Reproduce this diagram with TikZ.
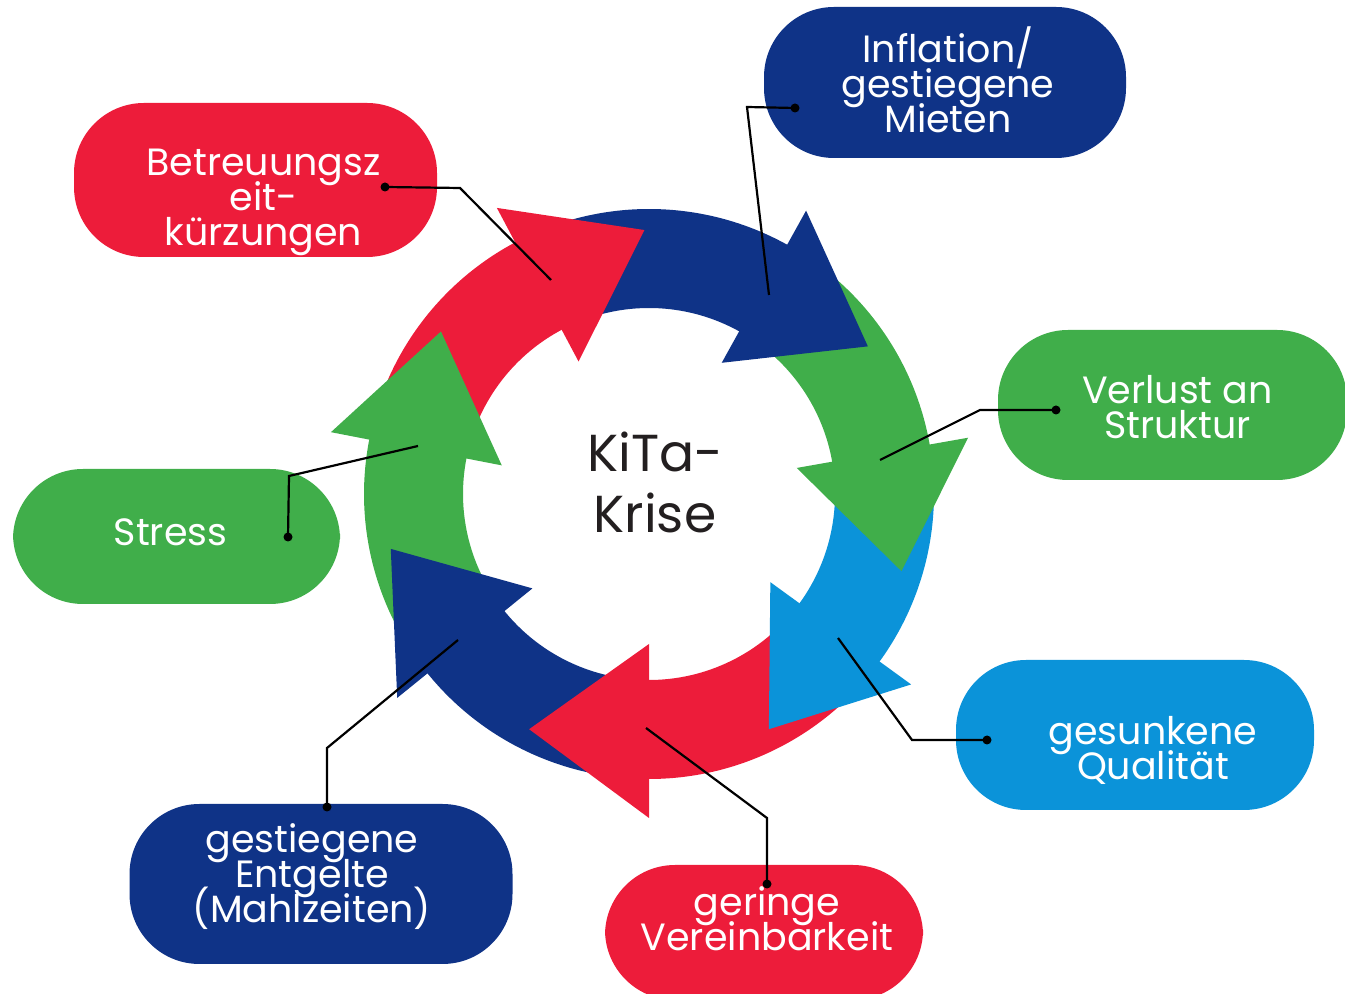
\documentclass[tikz,border=0pt]{standalone}
\usepackage{fontspec}
\setmainfont{Poppins}
\usetikzlibrary{shapes}
\definecolor{kred}{HTML}{ED1C3A}
\definecolor{kblue}{HTML}{0F3387}
\definecolor{kgreen}{HTML}{40AE4A}
\definecolor{klight}{HTML}{0B93D9}
\definecolor{kink}{HTML}{231F20}
\newcommand{\blobfont}{\fontsize{38}{35}\selectfont\lineskiplimit=-100pt\relax}
\tikzstyle{blob} = [rectangle, rounded corners=70pt, inner sep=0pt]
\tikzstyle{line} = [draw, line width=2.2pt]
\newcommand{\ringshaft}[3]{\fill[#1, shift={(649,500)}] ({#2-3}:285) arc[start angle={#2-3}, end angle={#3-2}, radius=285] -- ({#3-2}:186) arc[start angle={#3-2}, end angle={#2-3}, radius=186] -- cycle;}
\newcommand{\ringhead}[2]{\fill[#1, shift={(649,500)}] (#2:150) -- (#2:324) -- ({#2-27}:264) -- cycle;}

\begin{document}
\begin{tikzpicture}[x=1pt, y=1pt]
\tikzstyle{every label}=[text=white, align=center, font=\blobfont]
\useasboundingbox (0,0) rectangle (1345,994);
\clip (0,0) rectangle (1345,994);
\ringshaft{kred}{169}{118}
\ringshaft{kblue}{118}{61}
\ringshaft{kgreen}{61}{10}
\ringshaft{klight}{10}{-36}
\ringshaft{kred}{-36}{-90}
\ringshaft{kblue}{-90}{-141}
\ringshaft{kgreen}{219}{169}
\ringhead{kred}{118}
\ringhead{kblue}{61}
\ringhead{kgreen}{10}
\ringhead{klight}{-36}
\ringhead{kred}{-90}
\ringhead{kblue}{-141}
\ringhead{kgreen}{169}
\node[text=kink, align=center, font=\fontsize{52}{61}\selectfont] (krise) at (655,512) {KiTa-\\Krise};
\node[blob, fill=kred, minimum width=363, minimum height=154, label={[shift={(8,-22)}]center:Betreuungsz\\eit-\\kürzungen}] (betr) at (255.5,814) {};
\node[blob, fill=kblue, minimum width=362, minimum height=151, label={[shift={(3,3)}]center:Inflation/\\gestiegene\\Mieten}] (infl) at (945,911.5) {};
\node[blob, fill=kgreen, minimum width=349, minimum height=150, label={[shift={(5,-2)}]center:Verlust an\\Struktur}] (verlust) at (1172.5,589) {};
\node[blob, fill=klight, minimum width=358, minimum height=150, label={[shift={(18,-15)}]center:gesunkene\\Qualität}] (qual) at (1135,259) {};
\node[blob, fill=kred, minimum width=318, minimum height=135, label={[shift={(3,14)}]center:geringe\\Vereinbarkeit}] (verein) at (764,61.5) {};
\node[blob, fill=kblue, minimum width=383, minimum height=160, label={[shift={(-9,7)}]center:gestiegene\\Entgelte\\(Mahlzeiten)}] (entg) at (321,110) {};
\node[blob, fill=kgreen, minimum width=327, minimum height=135, label={[shift={(-6,4)}]center:Stress}] (stress) at (176.5,457.5) {};
\coordinate (betr-dot) at (385,807);
\coordinate (betr-tip) at (551,714);
\coordinate (infl-dot) at (795,886);
\coordinate (infl-tip) at (769,699);
\coordinate (verlust-dot) at (1056,584);
\coordinate (verlust-tip) at (880,534);
\coordinate (qual-dot) at (987,254);
\coordinate (qual-tip) at (838,356);
\coordinate (verein-dot) at (767,110);
\coordinate (verein-tip) at (646,266);
\coordinate (entg-dot) at (327,187);
\coordinate (entg-tip) at (458,354);
\coordinate (stress-dot) at (288,457);
\coordinate (stress-tip) at (418,548);
\path [line] (betr-dot) -- (460,806) -- (betr-tip);
\path [line] (infl-dot) -- (747,887) -- (infl-tip);
\path [line] (verlust-dot) -- (980,584) -- (verlust-tip);
\path [line] (qual-dot) -- (912,254) -- (qual-tip);
\path [line] (verein-dot) -- (767,176) -- (verein-tip);
\path [line] (entg-dot) -- (327,246) -- (entg-tip);
\path [line] (stress-dot) -- (289,518) -- (stress-tip);
\foreach \d in {betr-dot, infl-dot, verlust-dot, qual-dot, verein-dot, entg-dot, stress-dot}
  \fill (\d) circle (4.5);
\end{tikzpicture}
\end{document}
